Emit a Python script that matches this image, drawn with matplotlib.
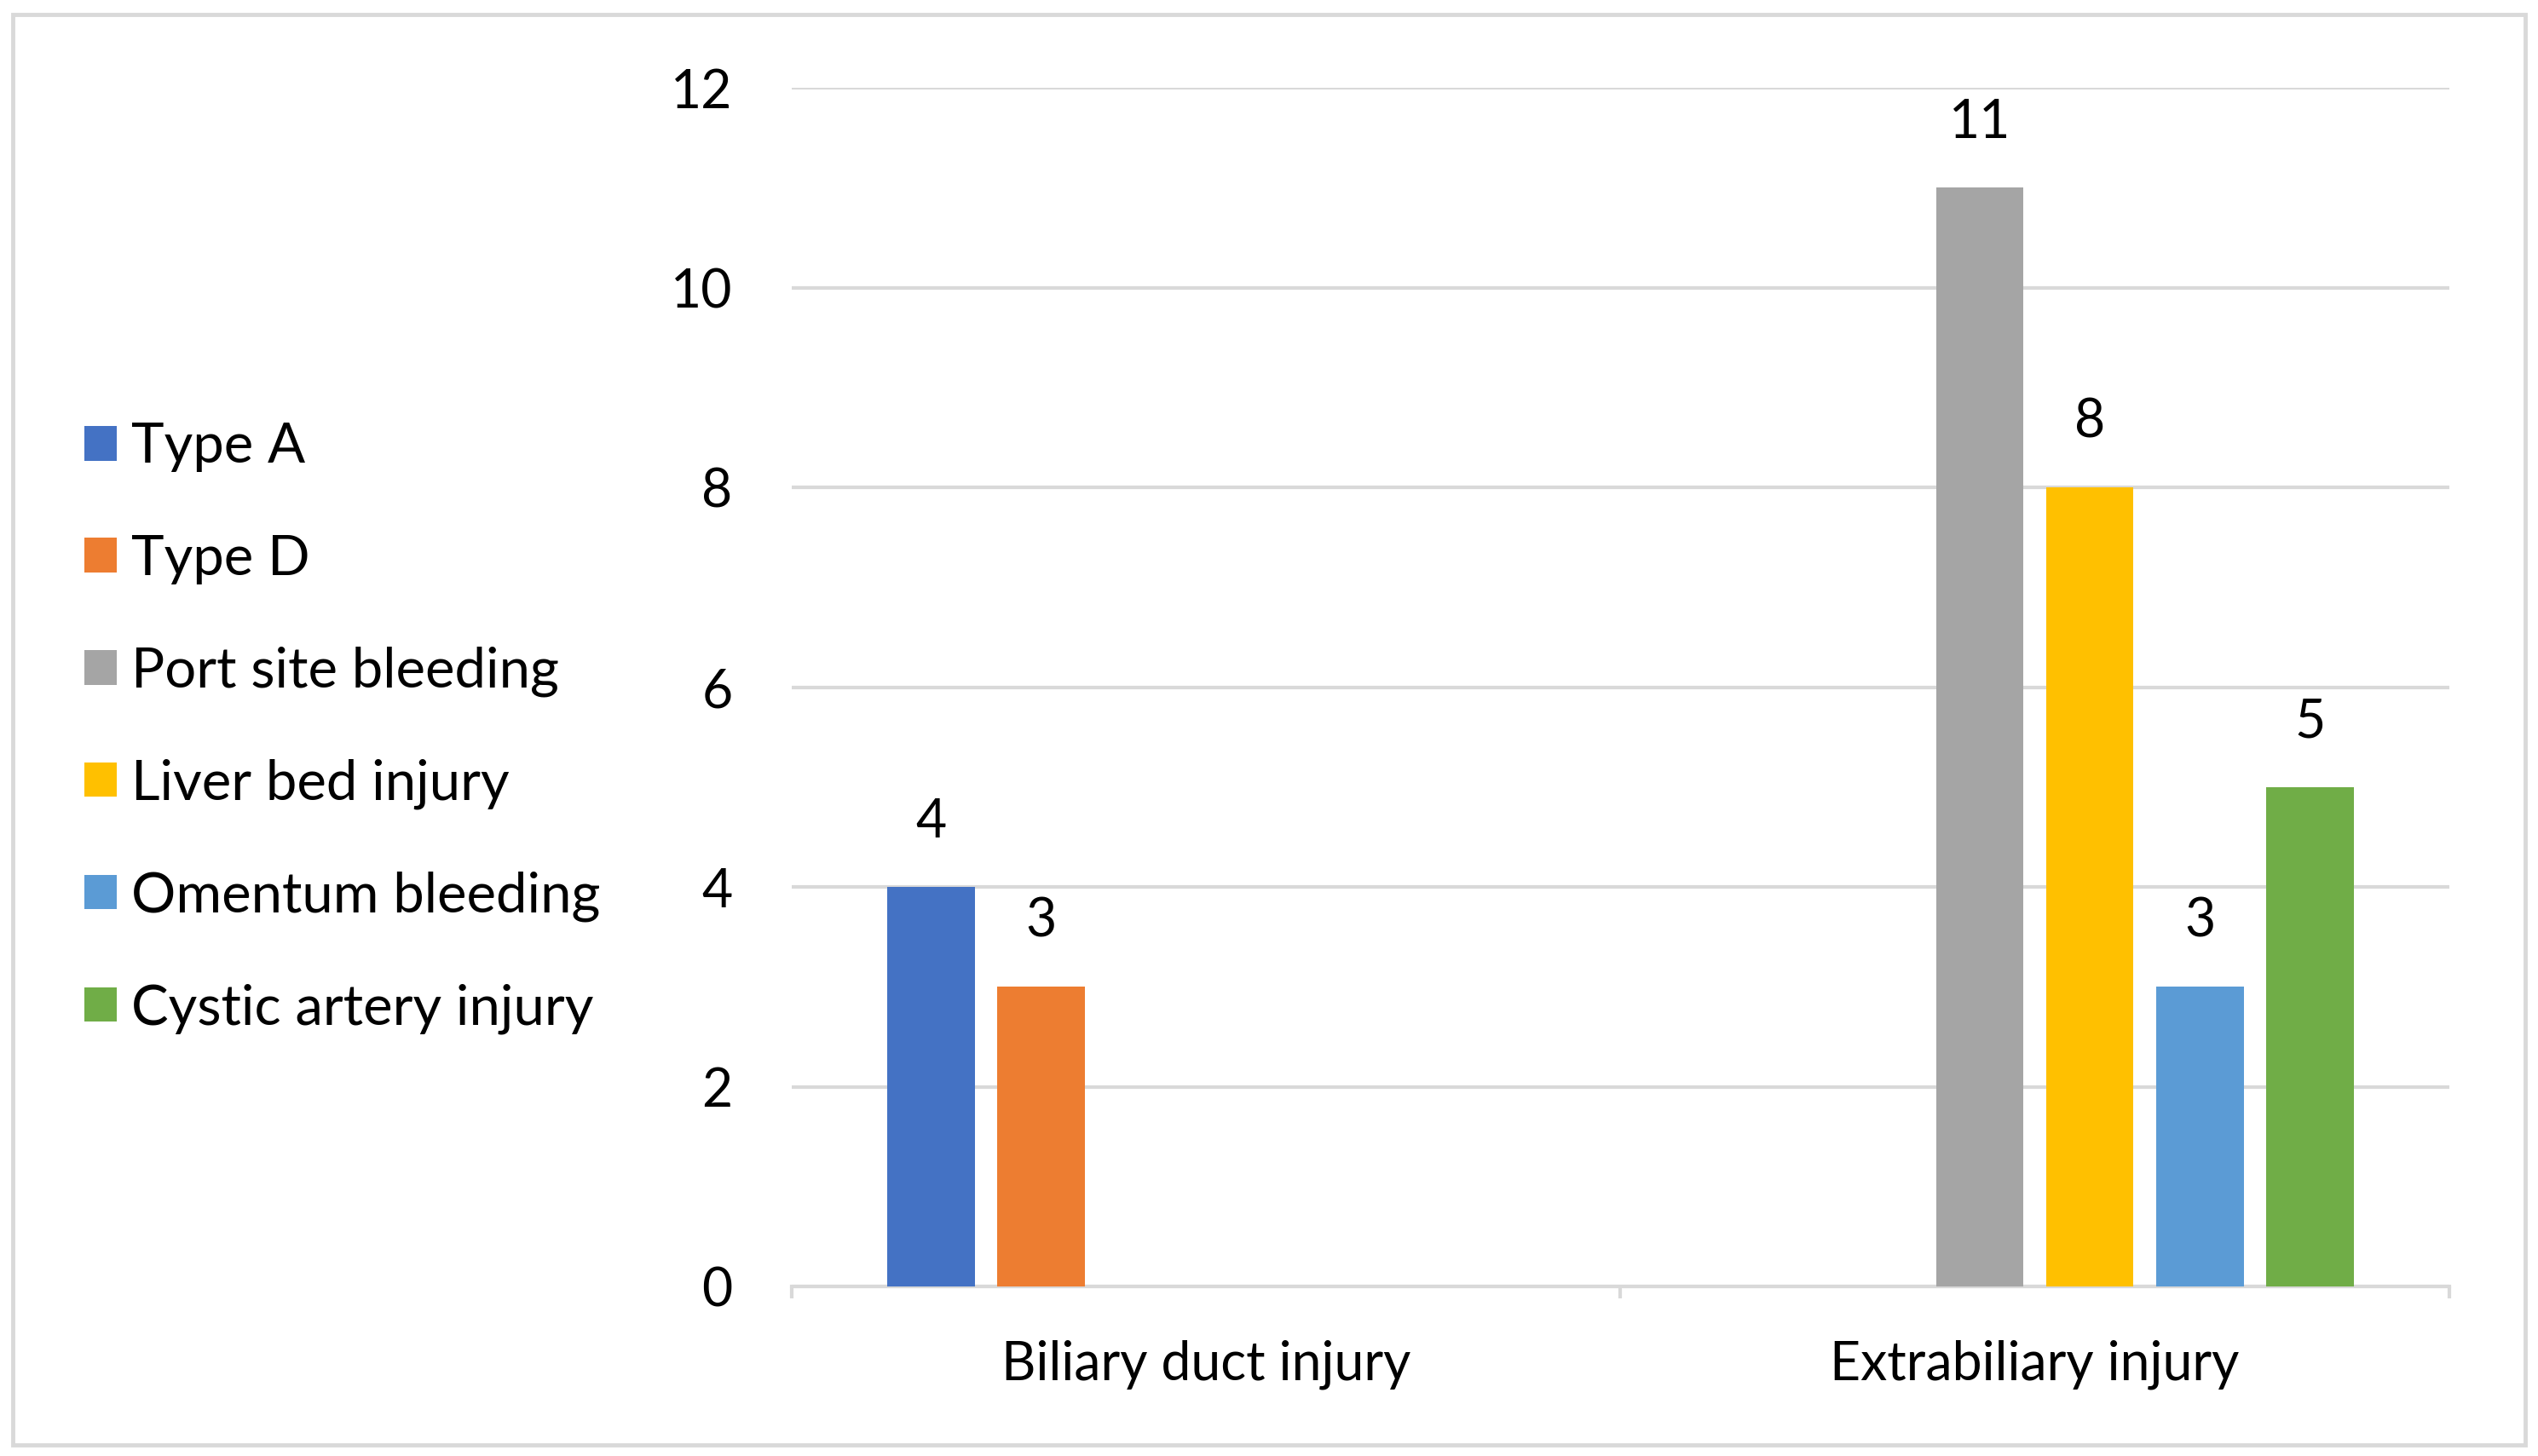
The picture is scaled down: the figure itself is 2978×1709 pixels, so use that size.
import numpy as np
import matplotlib.pyplot as plt
from matplotlib.patches import Rectangle

plt.rcParams['font.family'] = ['Lato', 'DejaVu Sans']

categories = ['Biliary duct injury', 'Extrabiliary injury']
series_names = ['Type A', 'Type D', 'Port site bleeding', 'Liver bed injury',
                'Omentum bleeding', 'Cystic artery injury']
series_values = [
    [4, 0],
    [3, 0],
    [0, 11],
    [0, 8],
    [0, 3],
    [0, 5],
]
colors = ['#4472C4', '#ED7D31', '#A5A5A5', '#FFC000', '#5B9BD5', '#70AD47']

grid_color = '#D9D9D9'

fig = plt.figure(figsize=(29.78, 17.09), dpi=100)
ax = fig.add_axes([0.312, 0.1164, 0.653, 0.8233])

x = np.arange(len(categories))
pitch = 0.1328
width = 0.1055
handles = []
for i, (name, vals, c) in enumerate(zip(series_names, series_values, colors)):
    pos = x + (i - 2.5) * pitch
    bars = ax.bar(pos, vals, width=width, color=c, label=name, zorder=3)
    handles.append(bars)
    # Excel hides the zero labels
    for xp, v in zip(pos, vals):
        if v != 0:
            ax.annotate(str(v), (xp, v), xytext=(0, 55), textcoords='offset points',
                        ha='center', va='center', fontsize=45)

ax.set_xlim(-0.5, 1.5)
ax.set_ylim(0, 12)
ax.set_yticks(range(0, 13, 2))
ax.yaxis.grid(True, color=grid_color, linewidth=3, zorder=0)
ax.set_axisbelow(True)

ax.set_xticks(x)
ax.set_xticklabels(categories, fontsize=45)
ax.set_xticks([-0.5, 0.5, 1.5], minor=True)
ax.tick_params(axis='x', which='major', length=0, pad=45)
ax.tick_params(axis='x', which='minor', length=10, width=3, color=grid_color)
ax.tick_params(axis='y', length=0, pad=50, labelsize=45)

for s in ['top', 'right', 'left']:
    ax.spines[s].set_visible(False)
ax.spines['bottom'].set_color(grid_color)
ax.spines['bottom'].set_linewidth(3)

fig.legend(handles=handles, loc='center left', bbox_to_anchor=(0.0135, 0.5),
           frameon=False, fontsize=47, handlelength=0.58, handleheight=0.58,
           handletextpad=0.26, labelspacing=1.11)

# chart area border
fig.patches.append(Rectangle((15 / 2978, 13 / 1709), 2948 / 2978, 1679 / 1709,
                             transform=fig.transFigure, fill=False,
                             edgecolor=grid_color, linewidth=3.5))

fig.savefig('out.png', dpi=100)
